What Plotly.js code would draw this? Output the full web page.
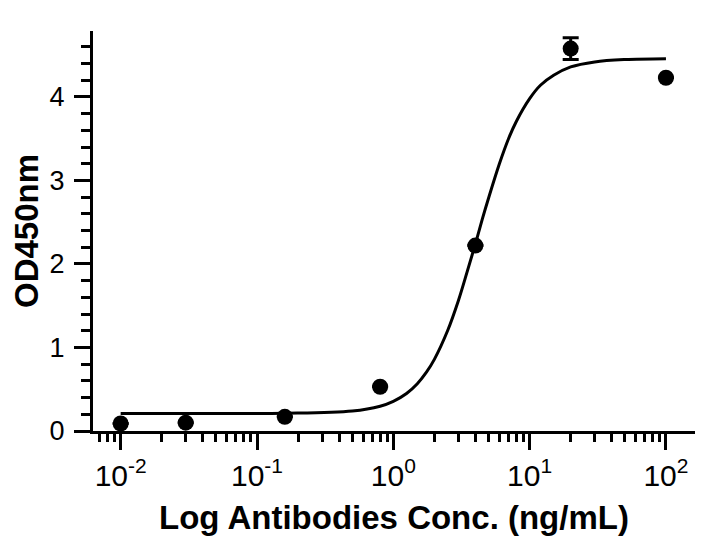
<!DOCTYPE html>
<html>
<head>
<meta charset="utf-8">
<script src="https://cdn.plot.ly/plotly-3.0.1.min.js"></script>
<style>html,body{margin:0;padding:0;background:#fff;}#chart{width:725px;height:547px;}</style>
</head>
<body>
<div id="chart"></div>
<script>
// Measured points (concentration in ng/mL, OD450nm)
const concentrations = [0.01, 0.03, 0.16, 0.8, 4, 20, 100];
const odValues = [0.09, 0.10, 0.17, 0.53, 2.22, 4.58, 4.23];
const odErrors = [null, null, null, null, null, 0.13, null];

// Fitted curve, points
const curveX = [0.01, 0.05, 0.16, 0.5, 0.8, 1.0, 1.25, 1.5, 1.75, 2.0, 2.5, 3.0, 3.5, 4.0, 4.5, 5.0, 6.0, 7.0, 8.0, 10, 12, 15, 20, 30, 50, 100];
const curveY = [0.21, 0.21, 0.212, 0.239, 0.297, 0.355, 0.449, 0.566, 0.704, 0.858, 1.20, 1.56, 1.92, 2.24, 2.54, 2.79, 3.20, 3.50, 3.71, 3.98, 4.14, 4.26, 4.36, 4.42, 4.448, 4.458];

// Axis ticks and titles
const xTickVals = [0.01, 0.1, 1, 10, 100];
const xTickText = ['10<sup>-2</sup>', '10<sup>-1</sup>', '10<sup>0</sup>', '10<sup>1</sup>', '10<sup>2</sup>'];
const xMinorVals = [0.007, 0.008, 0.009,
  0.02, 0.03, 0.04, 0.05, 0.06, 0.07, 0.08, 0.09,
  0.2, 0.3, 0.4, 0.5, 0.6, 0.7, 0.8, 0.9,
  2, 3, 4, 5, 6, 7, 8, 9,
  20, 30, 40, 50, 60, 70, 80, 90];
const yTickVals = [0, 1, 2, 3, 4];
const yTickText = ['0', '1', '2', '3', '4'];
const xTitle = 'Log Antibodies Conc. (ng/mL)';
const yTitle = 'OD450nm';

const FONT = 'Liberation Sans, Arial, Helvetica, sans-serif';

const traces = [
  {
    x: curveX, y: curveY, type: 'scatter', mode: 'lines',
    line: {color: '#000', width: 3, shape: 'spline', smoothing: 1},
    hoverinfo: 'skip', showlegend: false
  },
  {
    x: concentrations, y: odValues, type: 'scatter', mode: 'markers',
    marker: {color: '#000', size: 16, symbol: 'circle'},
    error_y: {type: 'data', array: odErrors, visible: true, color: '#000', thickness: 3, width: 8},
    showlegend: false
  }
];

const layout = {
  width: 725, height: 547,
  margin: {l: 93, r: 30, t: 31, b: 116, pad: 0},
  paper_bgcolor: '#fff', plot_bgcolor: '#fff',
  font: {family: FONT, color: '#000'},
  showlegend: false,
  xaxis: {
    type: 'log', range: [-2.203, 2.213],
    tickmode: 'array', tickvals: xTickVals, ticktext: xTickText,
    ticks: 'outside', ticklen: 16, tickwidth: 3, tickcolor: '#000',
    minor: {tickmode: 'array', tickvals: xMinorVals, ticks: 'outside', ticklen: 8, tickwidth: 3, tickcolor: '#000', showgrid: false},
    showline: true, linecolor: '#000', linewidth: 3,
    showgrid: false, zeroline: false,
    tickfont: {family: FONT, size: 30, color: '#000'},
    ticklabelstandoff: 0,
    title: {text: xTitle, font: {family: FONT, size: 33, color: '#000', weight: 700}, standoff: 15}
  },
  yaxis: {
    range: [0, 4.79],
    tickmode: 'array', tickvals: yTickVals, ticktext: yTickText,
    ticks: 'outside', ticklen: 16, tickwidth: 3, tickcolor: '#000',
    minor: {dtick: 0.2, tick0: 0, ticks: 'outside', ticklen: 9, tickwidth: 3, tickcolor: '#000', showgrid: false},
    showline: true, linecolor: '#000', linewidth: 3,
    showgrid: false, zeroline: false,
    tickfont: {family: FONT, size: 27, color: '#000'},
    ticklabelstandoff: 4
  },
  annotations: [{
    text: yTitle, xref: 'paper', yref: 'paper', x: 0, y: 0.5,
    xanchor: 'center', yanchor: 'middle', textangle: -90, xshift: -67,
    showarrow: false,
    font: {family: FONT, size: 33, color: '#000', weight: 700}
  }]
};

Plotly.newPlot('chart', traces, layout, {staticPlot: true, displayModeBar: false});
</script>
</body>
</html>
